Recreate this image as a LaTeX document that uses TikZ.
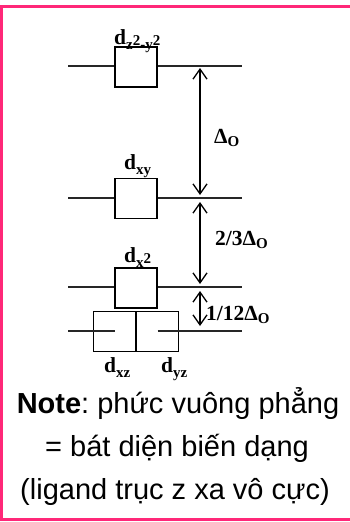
\documentclass[tikz,border=0pt]{standalone}
\usepackage{fontspec}
\setmainfont{Liberation Serif}
\newfontfamily\notefont{Liberation Sans}
\usetikzlibrary{arrows.meta}
\definecolor{framepink}{RGB}{255,40,120}
\newcommand{\lsub}[1]{\raisebox{-5.5pt}{\fontsize{15}{15}\selectfont #1}}
\newcommand{\gsub}[1]{\raisebox{-3pt}{\fontsize{15}{15}\selectfont #1}}
\newcommand{\lsup}[1]{\raisebox{4pt}{#1}}
\frenchspacing
\begin{document}
\begin{tikzpicture}[x=1pt,y=-1pt,
 lvl/.style={line width=1.3pt, draw=black!85},
 orb/.style={draw, fill=white, line width=1.5pt, minimum width=42pt, minimum height=40pt, inner sep=0pt},
 orbo/.style={draw, line width=1.5pt, minimum width=42pt, minimum height=40pt, inner sep=0pt},
 lab/.style={font=\fontsize{21.5}{21.5}\selectfont\bfseries, inner sep=0pt, anchor=base west},
 gap/.style={line width=1.3pt, {Straight Barb[length=10pt,width=14pt]}-{Straight Barb[length=10pt,width=14pt]}},
 note/.style={font=\notefont\fontsize{29}{29}\selectfont, inner sep=0pt, anchor=base}]
\useasboundingbox (0,0) rectangle (350,522);
\draw[framepink, line width=3pt] (1,6.5) rectangle (358,519.5);
% level lines
\coordinate (l1a) at (68,66);  \coordinate (l1b) at (242,66);
\coordinate (l2a) at (68,198); \coordinate (l2b) at (242,198);
\coordinate (l3a) at (68,287); \coordinate (l3b) at (242,287);
\coordinate (l4a) at (68,331); \coordinate (l4m) at (114.5,331);
\coordinate (l4n) at (157.5,331); \coordinate (l4b) at (242,331);
\draw[lvl] (l1a) -- (l1b);
\draw[lvl] (l2a) -- (l2b);
\draw[lvl] (l3a) -- (l3b);
% orbitals
\node[orb] (b1) at (136,67) {};
\node[orb] (b2) at (136,198.5) {};
\node[orb] (b3) at (136,288) {};
\node[orbo] (b4) at (114.5,331.5) {};
\node[orbo] (b5) at (157.5,331.5) {};
\draw[lvl] (l4a) -- (l4m);
\draw[lvl] (l4n) -- (l4b);
% labels
\node[lab] (t1) at (114,44) {d\lsub{z\lsup{2}-y\lsup{2}}};
\node[lab] (t2) at (124,169) {d\lsub{xy}};
\node[lab] (t3) at (124,262) {d\lsub{x\lsup{2}}};
\node[lab] (t4) at (104,372) {d\lsub{xz}};
\node[lab] (t5) at (161,372) {d\lsub{yz}};
% gaps
\coordinate (g1a) at (200,68);  \coordinate (g1b) at (200,195);
\coordinate (g2a) at (200,202); \coordinate (g2b) at (200,284);
\coordinate (g3a) at (200,291); \coordinate (g3b) at (200,326);
\draw[gap] (g1a) -- (g1b);
\draw[gap] (g2a) -- (g2b);
\draw[gap] (g3a) -- (g3b);
\node[lab] (e1) at (214,143) {Δ\gsub{O}};
\node[lab] (e2) at (215,245) {2/3Δ\gsub{O}};
\node[lab] (e3) at (206,320) {1/12Δ\gsub{O}};
% note
\node[note] (n1) at (178,413) {\textbf{Note}: phức vuông phẳng};
\node[note] (n2) at (177,456) {= bát diện biến dạng};
\node[note] (n3) at (175,499) {(ligand trục z xa vô cực)};
\end{tikzpicture}
\end{document}
